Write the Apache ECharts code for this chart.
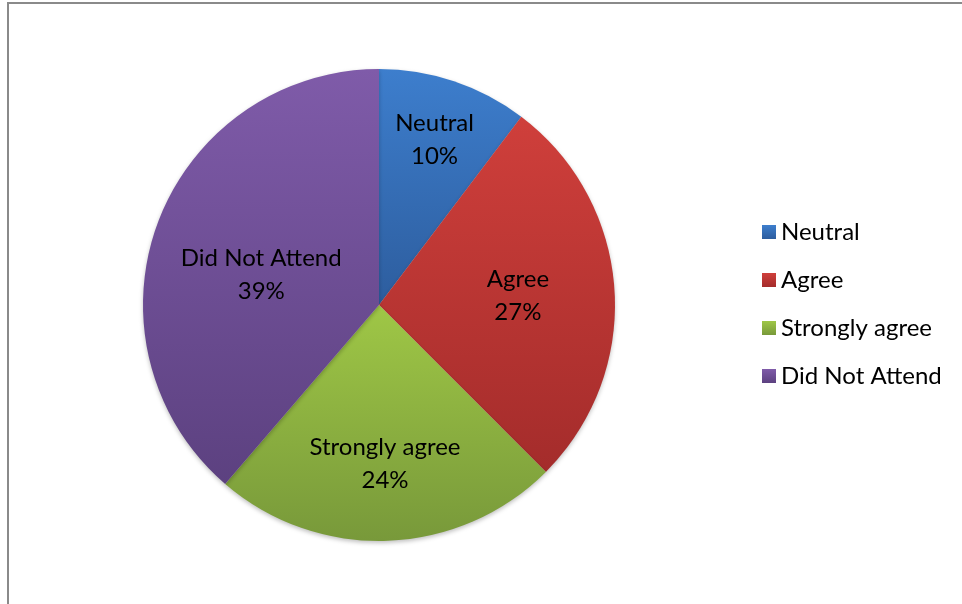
<!DOCTYPE html>
<html>
<head>
<meta charset="utf-8">
<script src="https://cdn.jsdelivr.net/npm/echarts@6/dist/echarts.min.js"></script>
<style>
html,body{margin:0;padding:0;background:#fff;}
#chart{width:962px;height:604px;}
</style>
</head>
<body>
<div id="chart"></div>
<script>
var categories = ['Neutral', 'Agree', 'Strongly agree', 'Did Not Attend'];
var values = [10.3, 27.2, 23.8, 38.7];
var topColors = ['#3d7ecd', '#cf3f3b', '#9fc746', '#7f5ba9'];
var bottomColors = ['#2d5d9e', '#a42c2b', '#78993a', '#5c4180'];
var labelRadial = [0.74, 0.59, 0.675, 0.515];
var labelAngleShiftDeg = [0, 0, 0, -6];

var CX = 379, CY = 305, R = 236;
var total = values.reduce(function (a, b) { return a + b; }, 0);
var midAngles = [];
(function () {
  var acc = 0;
  for (var i = 0; i < values.length; i++) {
    midAngles.push((acc + values[i] / 2) / total * 2 * Math.PI);
    acc += values[i];
  }
})();

function grad(i) {
  return {
    type: 'linear', x: 0, y: 0, x2: 0, y2: 1,
    colorStops: [{ offset: 0, color: topColors[i] }, { offset: 1, color: bottomColors[i] }]
  };
}

var data = categories.map(function (c, i) {
  return { name: c, value: values[i], itemStyle: { color: grad(i) } };
});

var chart = echarts.init(document.getElementById('chart'), null, { renderer: 'canvas' });
var FONT = 'Lato, "Open Sans", sans-serif';
chart.setOption({
  animation: false,
  backgroundColor: '#ffffff',
  graphic: [{
    type: 'rect',
    shape: { x: 8, y: 3, width: 1000, height: 700 },
    style: { fill: 'none', stroke: '#8a8a8a', lineWidth: 2 },
    silent: true
  }],
  legend: {
    orient: 'vertical',
    left: 757,
    top: 215,
    itemWidth: 14,
    itemHeight: 14,
    itemGap: 24,
    icon: 'rect',
    textStyle: { fontFamily: FONT, fontSize: 24, lineHeight: 24, color: '#000' },
    data: categories.map(function (c, i) {
      return { name: c, itemStyle: { color: grad(i) } };
    })
  },
  series: [{
    type: 'pie',
    center: [CX, CY],
    radius: [0, R],
    startAngle: 90,
    clockwise: true,
    silent: true,
    itemStyle: { borderWidth: 0, shadowBlur: 4, shadowColor: 'rgba(0,0,0,0.25)', shadowOffsetY: 2 },
    label: {
      show: true,
      position: 'inside',
      fontFamily: FONT,
      fontSize: 24,
      color: '#000',
      lineHeight: 33,
      align: 'center',
      formatter: function (p) { return p.name + '\n' + Math.round(p.percent) + '%'; }
    },
    labelLine: { show: false },
    labelLayout: function (params) {
      var i = params.dataIndex;
      var a = midAngles[i] + labelAngleShiftDeg[i] * Math.PI / 180;
      var tx = CX + labelRadial[i] * R * Math.sin(a);
      var ty = CY - labelRadial[i] * R * Math.cos(a);
      var rect = params.labelRect;
      return {
        dx: tx - (rect.x + rect.width / 2),
        dy: ty - (rect.y + rect.height / 2)
      };
    },
    data: data
  }]
});
</script>
</body>
</html>
